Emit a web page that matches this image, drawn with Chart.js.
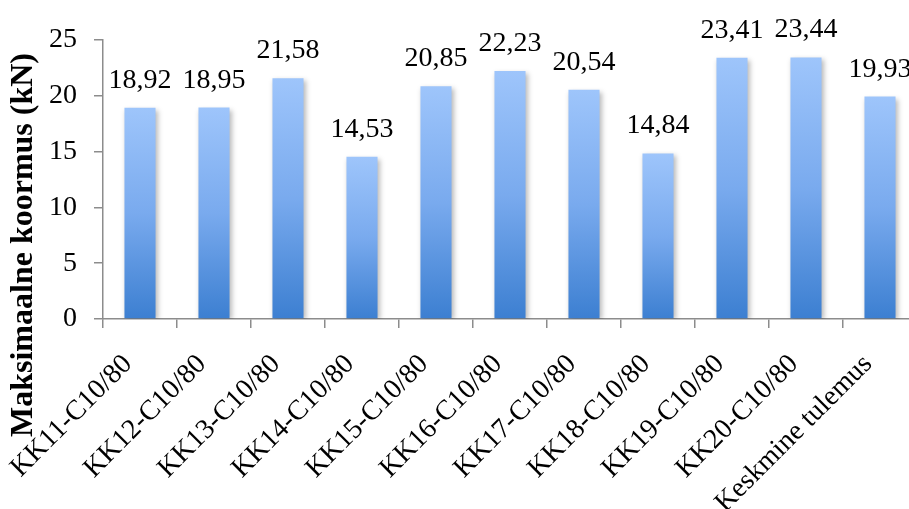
<!DOCTYPE html>
<html>
<head>
<meta charset="utf-8">
<script src="https://cdn.jsdelivr.net/npm/chart.js@4/dist/chart.umd.min.js"></script>
<style>
  html, body { margin: 0; padding: 0; background: #ffffff; overflow: hidden; }
  #wrap { width: 940px; height: 509px; }
</style>
</head>
<body>
<div id="wrap"><canvas id="c" width="940" height="509"></canvas></div>
<script>
// Specimens and their maximum load (kN)
const categories = [
  'KK11-C10/80', 'KK12-C10/80', 'KK13-C10/80', 'KK14-C10/80', 'KK15-C10/80',
  'KK16-C10/80', 'KK17-C10/80', 'KK18-C10/80', 'KK19-C10/80', 'KK20-C10/80',
  'Keskmine tulemus'
];
const maxLoad = [18.92, 18.95, 21.58, 14.53, 20.85, 22.23, 20.54, 14.84, 23.41, 23.44, 19.93];
const yTicks = [0, 5, 10, 15, 20, 25];
const yTitle = 'Maksimaalne koormus (kN)';

const SERIF = '"Liberation Serif", "Times New Roman", Times, serif';
const AXIS_COLOR = '#8c8c8c';

// Vertical gradient per bar: light at the top, deeper blue at the base
function barGradient(ctx) {
  const chart = ctx.chart;
  if (!chart.chartArea || ctx.type !== 'data') return '#7aaaf0';
  const y = chart.scales.y;
  const top = y.getPixelForValue(ctx.raw);
  const base = y.getPixelForValue(0);
  const g = chart.ctx.createLinearGradient(0, top, 0, base);
  g.addColorStop(0, '#9ec5fb');
  g.addColorStop(0.5, '#79aaee');
  g.addColorStop(1, '#3c7fd1');
  return g;
}

// Soft drop shadow behind the bars
const barShadow = {
  id: 'barShadow',
  beforeDatasetsDraw(chart) {
    const c = chart.ctx;
    c.save();
    c.shadowColor = 'rgba(0,0,0,0.28)';
    c.shadowBlur = 5;
    c.shadowOffsetX = 2;
    c.shadowOffsetY = 2;
  },
  afterDatasetsDraw(chart) {
    chart.ctx.restore();
  }
};

// Value labels above each bar, decimal comma
const valueLabels = {
  id: 'valueLabels',
  afterDatasetsDraw(chart) {
    const c = chart.ctx;
    const meta = chart.getDatasetMeta(0);
    c.save();
    c.font = '28px ' + SERIF;
    c.fillStyle = '#000000';
    c.textAlign = 'center';
    c.textBaseline = 'alphabetic';
    meta.data.forEach((el, i) => {
      const txt = maxLoad[i].toFixed(2).replace('.', ',');
      c.fillText(txt, el.x, el.y - 20);
    });
    c.restore();
  }
};

// Rotated y-axis title
const yAxisTitle = {
  id: 'yAxisTitle',
  afterDraw(chart) {
    const c = chart.ctx;
    c.save();
    c.translate(24, 245);
    c.rotate(-Math.PI / 2);
    c.font = 'bold 32px ' + SERIF;
    c.fillStyle = '#000000';
    c.textAlign = 'center';
    c.textBaseline = 'middle';
    c.fillText(yTitle, 0, 0);
    c.restore();
  }
};

new Chart(document.getElementById('c'), {
  type: 'bar',
  data: {
    labels: categories,
    datasets: [{
      data: maxLoad,
      backgroundColor: barGradient,
      borderWidth: 0,
      categoryPercentage: 1,
      barPercentage: 0.42
    }]
  },
  options: {
    responsive: false,
    animation: false,
    events: [],
    layout: { padding: { top: 40, right: 23, bottom: 0, left: 0 } },
    plugins: {
      legend: { display: false },
      tooltip: { enabled: false }
    },
    scales: {
      x: {
        grid: {
          offset: true,
          drawOnChartArea: false,
          drawTicks: true,
          tickLength: 9,
          color: AXIS_COLOR,
          lineWidth: 1.5
        },
        border: { display: true, color: AXIS_COLOR, width: 1.5 },
        ticks: {
          autoSkip: false,
          maxRotation: 45,
          minRotation: 45,
          padding: 20,
          labelOffset: -12,
          color: '#000000',
          font: { family: SERIF, size: 28 }
        },
        afterFit(scale) { scale.height = 190; }
      },
      y: {
        min: 0,
        max: 25,
        afterBuildTicks(scale) { scale.ticks = yTicks.map(v => ({ value: v })); },
        grid: {
          drawOnChartArea: false,
          drawTicks: true,
          tickLength: 9,
          color: AXIS_COLOR,
          lineWidth: 1.5
        },
        border: { display: true, color: AXIS_COLOR, width: 1.5 },
        ticks: {
          padding: 17,
          color: '#000000',
          font: { family: SERIF, size: 28 }
        },
        afterFit(scale) { scale.width = 103; }
      }
    }
  },
  plugins: [barShadow, valueLabels, yAxisTitle]
});
</script>
</body>
</html>
